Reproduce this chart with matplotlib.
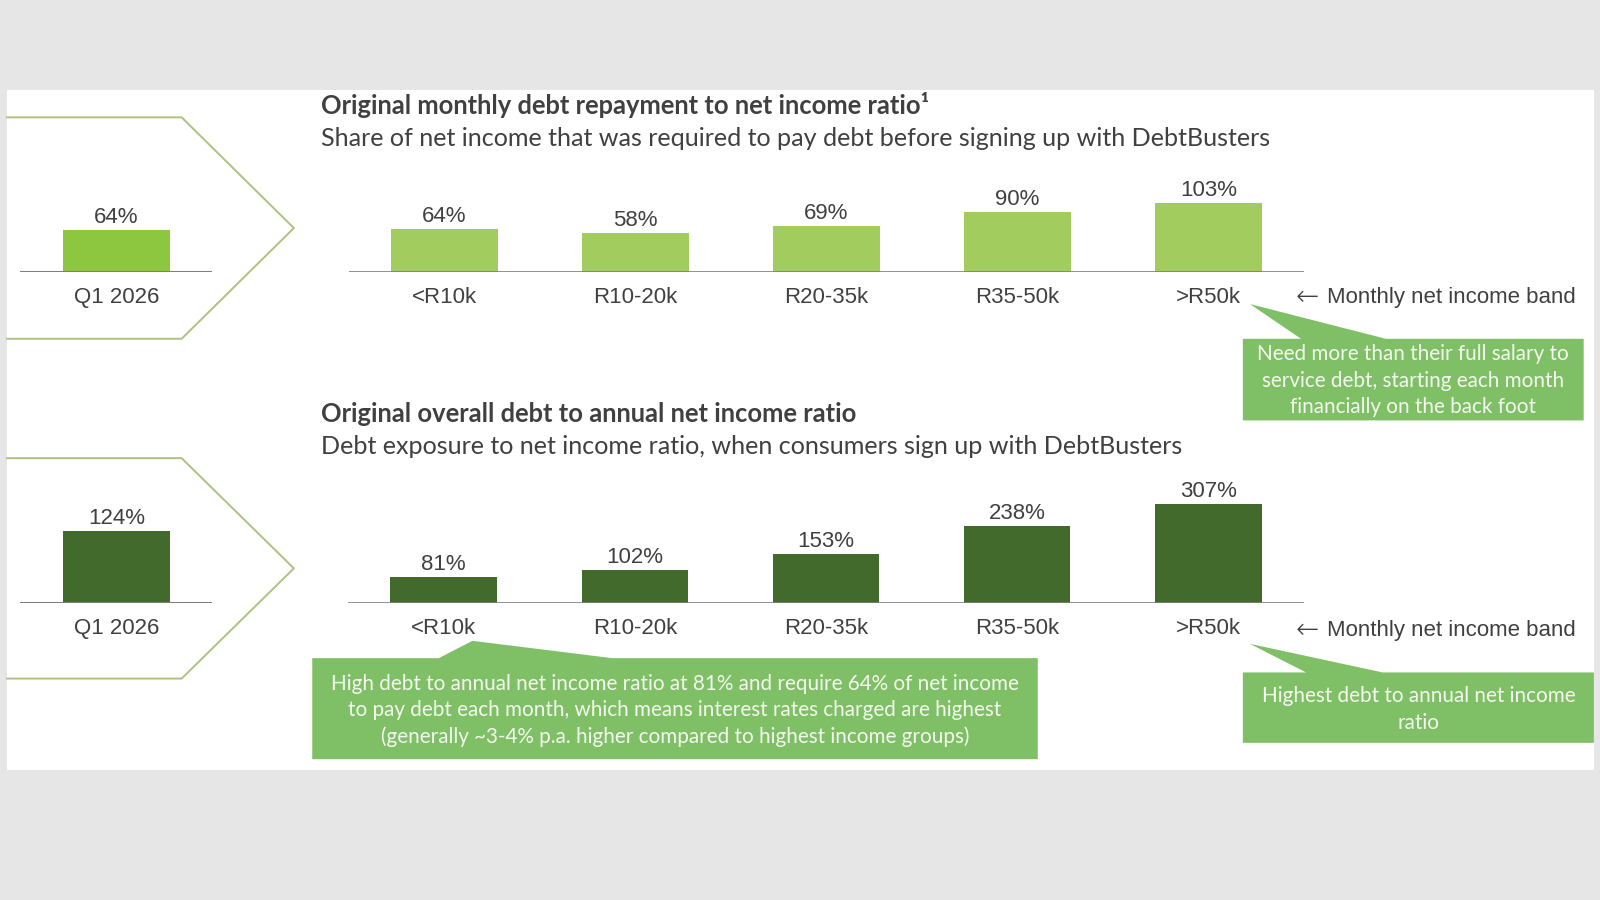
import matplotlib
matplotlib.use("Agg")
import matplotlib.pyplot as plt
from matplotlib.patches import Rectangle, Polygon
from matplotlib.lines import Line2D

# ---------------- data ----------------
categories = ["<R10k", "R10-20k", "R20-35k", "R35-50k", ">R50k"]
monthly_ratio = [64, 58, 69, 90, 103]        # % of net income to repay debt
overall_ratio = [81, 102, 153, 238, 307]     # % debt to annual net income
q1_label = ["Q1 2026"]
q1_monthly = [64]
q1_overall = [124]

title_top = "Original monthly debt repayment to net income ratio\u00b9"
sub_top = "Share of net income that was required to pay debt before signing up with DebtBusters"
title_bot = "Original overall debt to annual net income ratio"
sub_bot = "Debt exposure to net income ratio, when consumers sign up with DebtBusters"
band_arrow = "\u2190"
band_text = "Monthly net income band"
callout1 = ["Need more than their full salary to", "service debt, starting each month",
            "financially on the back foot"]
callout2 = ["High debt to annual net income ratio at 81% and require 64% of net income",
            "to pay debt each month, which means interest rates charged are highest",
            "(generally ~3-4% p.a. higher compared to highest income groups)"]
callout3 = ["Highest debt to annual net income", "ratio"]

# ---------------- style ----------------
BG = "#e6e6e6"
LIGHT = "#a2cd5e"
Q1LIGHT = "#8dc63f"
DARK = "#416a2c"
CALL = "#7fbf66"
CHEV = "#adc282"
TXT = "#404040"
ARIAL = ["Liberation Sans", "DejaVu Sans"]
CAL = ["Lato", "DejaVu Sans"]

W, H = 1568.0, 882.0
def X(x): return x / W
def Y(y): return 1 - y / H

fig = plt.figure(figsize=(16, 9), dpi=100)
fig.patch.set_facecolor(BG)
fig.add_artist(Rectangle((X(7), Y(755)), X(1562) - X(7), (755 - 88) / H,
                         transform=fig.transFigure, facecolor="white", edgecolor="none", zorder=0))

# chevrons
for top, bot in [(115, 332), (449, 665)]:
    mid = (top + bot) / 2
    xs = [X(7), X(178), X(288), X(178), X(7)]
    ys = [Y(top), Y(top), Y(mid), Y(bot), Y(bot)]
    fig.add_artist(Line2D(xs, ys, transform=fig.transFigure, color=CHEV, lw=1.4, zorder=1))


def bar_axes(x0, x1, base, px_per_unit, ymax, labels, values, color, base_color, base_lw, n_width):
    h = px_per_unit * ymax
    ax = fig.add_axes([X(x0), Y(base), (x1 - x0) / W, h / H])
    n = len(values)
    ax.bar(range(n), values, width=n_width, color=color, zorder=2)
    ax.set_xlim(-0.5, n - 0.5)
    ax.set_ylim(0, ymax)
    ax.axis("off")
    ax.axhline(0, color=base_color, lw=base_lw, zorder=3)
    for i, v in enumerate(values):
        ax.annotate(f"{v}%", xy=(i, v), xytext=(0, 5), textcoords="offset points",
                    ha="center", va="baseline", fontsize=16, color=TXT, family=ARIAL)
        ax.annotate(labels[i], xy=(i, 0), xytext=(0, -22), textcoords="offset points",
                    ha="center", va="baseline", fontsize=16, color=TXT, family=ARIAL)
    return ax

# top section
bar_axes(20, 208, 267, 0.656, 120, q1_label, q1_monthly, Q1LIGHT, "#7f7f7f", 2.2, 0.56)
bar_axes(342, 1278, 267, 0.66, 120, categories, monthly_ratio, LIGHT, "#7f7f7f", 1.2, 0.556)
# bottom section
bar_axes(20, 208, 591, 0.573, 150, q1_label, q1_overall, DARK, "#7f7f7f", 2.2, 0.56)
bar_axes(341, 1278, 591, 0.316, 350, categories, overall_ratio, DARK, "#7f7f7f", 1.2, 0.556)

# band labels
for yb in (297, 623):
    fig.text(X(1270), Y(yb + 2), band_arrow, fontsize=20, color=TXT, family=["DejaVu Sans"],
             ha="left", va="baseline", fontweight="light")
    fig.text(X(1300), Y(yb), band_text, fontsize=16, color=TXT, family=ARIAL, ha="left", va="baseline")

fitlist = []
t = fig.text(X(315), Y(112), title_top, fontsize=18, fontweight="bold", color=TXT, family=CAL, va="baseline")
fitlist.append((t, 913 - 315))
t = fig.text(X(315), Y(143), sub_top, fontsize=18, color=TXT, family=CAL, va="baseline")
fitlist.append((t, 1248 - 315))
t = fig.text(X(315), Y(414), title_bot, fontsize=18, fontweight="bold", color=TXT, family=CAL, va="baseline")
fitlist.append((t, 842 - 315))
t = fig.text(X(315), Y(445), sub_bot, fontsize=18, color=TXT, family=CAL, va="baseline")
fitlist.append((t, 1161 - 315))


def callout(rect, tip, base, lines, ys):
    x0, y0, x1, y1 = rect
    pts = [(x0, y0), (base[0], y0), tip, (base[1], y0), (x1, y0), (x1, y1), (x0, y1)]
    fig.add_artist(Polygon([(X(a), Y(b)) for a, b in pts], closed=True, transform=fig.transFigure,
                           facecolor=CALL, edgecolor="none", zorder=2))
    cx = (x0 + x1) / 2
    texts = []
    for line, yy in zip(lines, ys):
        texts.append(fig.text(X(cx), Y(yy), line, fontsize=14, color="#f4faef", family=CAL,
                              ha="center", va="baseline", zorder=3))
    return texts

c1 = callout((1218, 332, 1552, 412), (1225, 298), (1275, 1358), callout1, [353, 379, 405])
c2 = callout((306, 645, 1017, 744), (463, 628), (430, 600), callout2, [676, 702, 728])
c3 = callout((1218, 659, 1562, 728), (1225, 631), (1280, 1355), callout3, [688, 714])

fig.canvas.draw()
r = fig.canvas.get_renderer()
scale = 1600.0 / W
for t, wd in fitlist:
    w = t.get_window_extent(r).width
    t.set_fontsize(t.get_fontsize() * wd * scale / w)
w = c2[0].get_window_extent(r).width
cs = 14 * (999 - 324) * scale / w
for t in c1 + c2 + c3:
    t.set_fontsize(cs)

fig.savefig("out.png", dpi=100, facecolor=BG)
